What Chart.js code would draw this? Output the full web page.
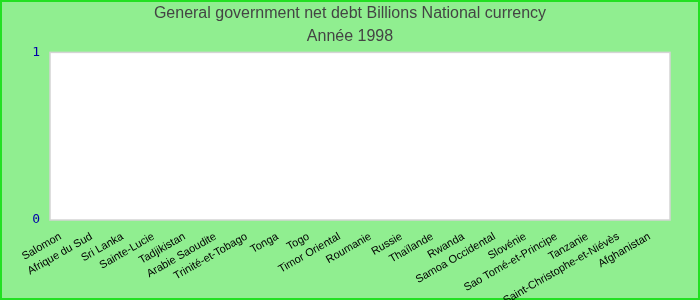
<!DOCTYPE html>
<html>
<head>
<meta charset="utf-8">
<script src="https://cdn.jsdelivr.net/npm/chart.js@4"></script>
<style>
  html, body { margin: 0; padding: 0; background: #90ee90; }
  #wrap { width: 700px; height: 300px; position: relative; }
</style>
</head>
<body>
<div id="wrap"><canvas id="myChart" width="700" height="300"></canvas></div>
<script>
// pays (axe des x)
const categories = ['Salomon', 'Afrique du Sud', 'Sri Lanka', 'Sainte-Lucie', 'Tadjikistan',
    'Arabie Saoudite', 'Trinité-et-Tobago', 'Tonga', 'Togo', 'Timor Oriental', 'Roumanie',
    'Russie', 'Thaïlande', 'Rwanda', 'Samoa Occidental', 'Slovénie', 'Sao Tomé-et-Principe',
    'Tanzanie', 'Saint-Christophe-et-Niévès', 'Afghanistan'];
// aucune valeur disponible pour 1998
const values = [null, null, null, null, null, null, null, null, null, null,
    null, null, null, null, null, null, null, null, null, null];
const yTicks = [0, 1];
const titleLines = ['General government net debt Billions National currency', 'Année 1998'];

// fond vert, cadre, zone blanche
const fondPlugin = {
    id: 'fond',
    beforeDraw(chart) {
        const c = chart.ctx;
        const a = chart.chartArea;
        c.save();
        c.fillStyle = '#90ee90';
        c.fillRect(0, 0, chart.width, chart.height);
        c.strokeStyle = '#22e022';
        c.lineWidth = 2;
        c.strokeRect(1, 1, chart.width - 2, chart.height - 2);
        c.fillStyle = '#ffffff';
        c.fillRect(a.left, a.top, a.right - a.left, a.bottom - a.top);
        c.strokeStyle = '#d4d4d4';
        c.lineWidth = 1.5;
        c.strokeRect(a.left, a.top, a.right - a.left, a.bottom - a.top);
        c.restore();
    }
};

const ctx = document.getElementById('myChart').getContext('2d');
const myChart = new Chart(ctx, {
    type: 'bar',
    data: {
        labels: categories,
        datasets: [{
            label: '1998',
            data: values,
            backgroundColor: 'rgba(54, 162, 235, 0.6)'
        }]
    },
    options: {
        responsive: false,
        animation: false,
        layout: { padding: 0 },
        plugins: {
            legend: { display: false },
            tooltip: { enabled: false },
            title: {
                display: true,
                text: titleLines,
                color: '#444444',
                font: { family: 'Liberation Sans, Arial', size: 16, weight: 'normal', lineHeight: 1.45 },
                padding: { top: 2, bottom: 4 }
            }
        },
        scales: {
            x: {
                grid: { display: false, drawTicks: false },
                border: { display: false },
                ticks: {
                    autoSkip: false,
                    minRotation: 30,
                    maxRotation: 30,
                    padding: 10,
                    labelOffset: -5,
                    color: '#000000',
                    font: { family: 'Liberation Sans, Arial', size: 11 }
                },
                afterFit(scale) { scale.height = 80; }
            },
            y: {
                min: 0,
                max: 1,
                grid: { display: false, drawTicks: false },
                border: { display: false },
                afterBuildTicks(scale) { scale.ticks = yTicks.map(v => ({ value: v })); },
                ticks: {
                    padding: 10,
                    color: '#0000a8',
                    font: { family: 'DejaVu Sans Mono', size: 13 }
                },
                afterFit(scale) { scale.width = 50; }
            },
            // marge droite vide
            yDroite: {
                position: 'right',
                min: 0,
                max: 1,
                grid: { display: false, drawTicks: false },
                border: { display: false },
                ticks: { display: false },
                afterFit(scale) { scale.width = 30; }
            }
        }
    },
    plugins: [fondPlugin]
});
</script>
</body>
</html>
